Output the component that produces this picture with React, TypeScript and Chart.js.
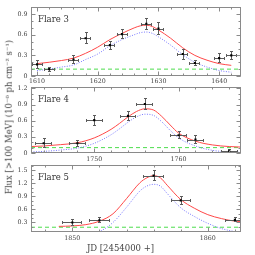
import React, { useEffect, useRef } from 'react';
import { Chart, registerables } from 'chart.js';
Chart.register(...registerables);

// ---------- Flare 3 ----------
const F3_X = [1610, 1612, 1616, 1618, 1622, 1624, 1628, 1630, 1634, 1636, 1640, 1642];
const F3_Y = [0.17, 0.10, 0.24, 0.55, 0.45, 0.61, 0.76, 0.69, 0.32, 0.19, 0.26, 0.30];
const F3_YERR = [0.07, 0.035, 0.07, 0.085, 0.065, 0.07, 0.085, 0.09, 0.08, 0.05, 0.07, 0.07];
const F3_XERR = [0.9, 0.9, 0.9, 0.9, 0.9, 0.9, 0.9, 0.9, 0.9, 0.9, 0.9, 0.9];
const F3_CURVE_X = [1610, 1612, 1614, 1616, 1618, 1620, 1622, 1624, 1626, 1627, 1628, 1629, 1630, 1632, 1634, 1636, 1638, 1640, 1642];
const F3_TOTAL = [0.18, 0.20, 0.225, 0.26, 0.33, 0.42, 0.53, 0.62, 0.70, 0.73, 0.74, 0.72, 0.67, 0.55, 0.41, 0.30, 0.23, 0.18, 0.155];
const F3_FLARE = [0.08, 0.10, 0.13, 0.16, 0.24, 0.32, 0.44, 0.53, 0.60, 0.63, 0.64, 0.62, 0.57, 0.45, 0.31, 0.20, 0.13, 0.08, 0.055];
const F3_BASE = 0.1;
const F3_XTICKS = [1610, 1620, 1630, 1640];
const F3_YTICKS = [0, 0.3, 0.6, 0.9];

// ---------- Flare 4 ----------
const F4_X = [1744, 1748, 1750, 1754, 1756, 1760, 1762, 1766];
const F4_Y = [0.18, 0.18, 0.61, 0.69, 0.91, 0.33, 0.25, 0.04];
const F4_YERR = [0.09, 0.06, 0.1, 0.09, 0.11, 0.07, 0.08, 0.03];
const F4_XERR = [1, 1, 1, 1, 1, 1, 1, 1];
const F4_CURVE_X = [1742.5, 1744, 1746, 1748, 1750, 1752, 1753, 1754, 1755, 1756, 1757, 1758, 1759, 1760, 1762, 1764, 1766, 1767.4];
const F4_TOTAL = [0.12, 0.13, 0.155, 0.19, 0.28, 0.44, 0.55, 0.67, 0.77, 0.82, 0.80, 0.68, 0.52, 0.37, 0.22, 0.15, 0.12, 0.11];
const F4_FLARE = [0.02, 0.03, 0.055, 0.09, 0.18, 0.34, 0.45, 0.57, 0.67, 0.72, 0.70, 0.58, 0.42, 0.28, 0.13, 0.05, 0.02, 0.01];
const F4_BASE = 0.1;
const F4_XTICKS = [1750, 1760];
const F4_YTICKS = [0, 0.3, 0.6, 0.9, 1.2];

// ---------- Flare 5 ----------
const F5_X = [1850, 1852, 1856, 1858, 1862];
const F5_Y = [0.30, 0.35, 1.38, 0.81, 0.36];
const F5_YERR = [0.07, 0.07, 0.13, 0.1, 0.06];
const F5_XERR = [0.75, 0.75, 0.75, 0.75, 0.75];
const F5_CURVE_X = [1849, 1850, 1851, 1852, 1853, 1854, 1855, 1855.5, 1856, 1856.5, 1857, 1858, 1859, 1860, 1861, 1862, 1862.4];
const F5_TOTAL = [0.21, 0.22, 0.25, 0.33, 0.50, 0.85, 1.22, 1.33, 1.38, 1.33, 1.16, 0.83, 0.63, 0.48, 0.39, 0.33, 0.32];
const F5_FLARE = [0.01, 0.02, 0.03, 0.09, 0.30, 0.65, 1.03, 1.14, 1.18, 1.14, 0.97, 0.64, 0.44, 0.28, 0.16, 0.09, 0.07];
const F5_BASE = 0.19;
const F5_XTICKS = [1850, 1860];
const F5_YTICKS = [0.3, 0.6, 0.9, 1.2, 1.5];

const LABELS = ['Flare 3', 'Flare 4', 'Flare 5'];
const X_TITLE = 'JD [2454000 +]';

const FONT = '"DejaVu Serif"';

const errorBarPlugin = {
  id: 'errbars',
  beforeDatasetDraw(chart: any, args: any) {
    const ds = chart.data.datasets[args.index];
    if (!ds.yErr) return;
    const { ctx, chartArea: a } = chart;
    const x = chart.scales.x, y = chart.scales.y;
    const s = (v: number) => Math.round(v) + 0.5;
    ctx.save();
    ctx.beginPath();
    ctx.rect(a.left, a.top, a.right - a.left, a.bottom - a.top);
    ctx.clip();
    ctx.strokeStyle = '#5c5c5c';
    ctx.lineWidth = 1;
    ctx.beginPath();
    ds.data.forEach((pt: any, i: number) => {
      const px = s(x.getPixelForValue(pt.x));
      const py = s(y.getPixelForValue(pt.y));
      const x0 = Math.round(x.getPixelForValue(pt.x - ds.xErr[i]));
      const x1 = Math.round(x.getPixelForValue(pt.x + ds.xErr[i]));
      const y0 = Math.round(y.getPixelForValue(pt.y - ds.yErr[i]));
      const y1 = Math.round(y.getPixelForValue(pt.y + ds.yErr[i]));
      ctx.moveTo(x0, py); ctx.lineTo(x1, py);
      ctx.moveTo(px, y0); ctx.lineTo(px, y1);
      ctx.moveTo(x0 + 0.5, py - 1.5); ctx.lineTo(x0 + 0.5, py + 1.5);
      ctx.moveTo(x1 - 0.5, py - 1.5); ctx.lineTo(x1 - 0.5, py + 1.5);
      ctx.moveTo(px - 1.5, y0 - 0.5); ctx.lineTo(px + 1.5, y0 - 0.5);
      ctx.moveTo(px - 1.5, y1 + 0.5); ctx.lineTo(px + 1.5, y1 + 0.5);
    });
    ctx.stroke();
    ctx.restore();
  },
};

const framePlugin = {
  id: 'frame',
  afterDraw(chart: any, _args: any, o: any) {
    const { ctx, chartArea: a } = chart;
    const x = chart.scales.x, y = chart.scales.y;
    const L = Math.round(a.left) + 0.5, R = Math.round(a.right) - 0.5;
    const T = Math.round(a.top) + 0.5, B = Math.round(a.bottom) - 0.5;
    ctx.save();
    ctx.strokeStyle = '#8a8a8a';
    ctx.lineWidth = 1;
    ctx.strokeRect(L, T, R - L, B - T);
    ctx.beginPath();
    const tickX = (v: number, len: number) => {
      const p = Math.round(x.getPixelForValue(v)) + 0.5;
      ctx.moveTo(p, B); ctx.lineTo(p, B - len);
      ctx.moveTo(p, T); ctx.lineTo(p, T + len);
    };
    const tickY = (v: number, len: number) => {
      const p = Math.round(y.getPixelForValue(v)) + 0.5;
      ctx.moveTo(L, p); ctx.lineTo(L + len, p);
      ctx.moveTo(R, p); ctx.lineTo(R - len, p);
    };
    x.ticks.forEach((t: any) => tickX(t.value, 4));
    y.ticks.forEach((t: any) => tickY(t.value, 4));
    for (let k = Math.ceil(x.min / o.minorX - 1e-9); k * o.minorX <= x.max + 1e-9; k++) tickX(k * o.minorX, 2);
    for (let k = Math.ceil(y.min / o.minorY - 1e-9); k * o.minorY <= y.max + 1e-9; k++) tickY(k * o.minorY, 2);
    ctx.stroke();
    ctx.fillStyle = '#333';
    ctx.font = `8.5px ${FONT}`;
    ctx.textBaseline = 'middle';
    ctx.textAlign = 'left';
    ctx.fillText(o.label, a.left + 7, a.top + 13);
    ctx.restore();
  },
};

type PanelDef = {
  xs: number[]; ys: number[]; yErr: number[]; xErr: number[];
  cx: number[]; total: number[]; flare: number[]; base: number;
  xTicks: number[]; yTicks: number[];
  xMin: number; xMax: number; yMin: number; yMax: number;
  label: string;
  top: number; height: number; padTop: number; axisH: number; labelPad: number;
};

const PANEL_DEFS: PanelDef[] = [
  { xs: F3_X, ys: F3_Y, yErr: F3_YERR, xErr: F3_XERR, cx: F3_CURVE_X, total: F3_TOTAL, flare: F3_FLARE, base: F3_BASE,
    xTicks: F3_XTICKS, yTicks: F3_YTICKS, xMin: 1609, xMax: 1643.6, yMin: 0, yMax: 1.0, label: LABELS[0],
    top: 0, height: 90, padTop: 5, axisH: 14, labelPad: 2 },
  { xs: F4_X, ys: F4_Y, yErr: F4_YERR, xErr: F4_XERR, cx: F4_CURVE_X, total: F4_TOTAL, flare: F4_FLARE, base: F4_BASE,
    xTicks: F4_XTICKS, yTicks: F4_YTICKS, xMin: 1742.5, xMax: 1767.4, yMin: 0, yMax: 1.22, label: LABELS[1],
    top: 80, height: 88, padTop: 6, axisH: 15, labelPad: 2.5 },
  { xs: F5_X, ys: F5_Y, yErr: F5_YERR, xErr: F5_XERR, cx: F5_CURVE_X, total: F5_TOTAL, flare: F5_FLARE, base: F5_BASE,
    xTicks: F5_XTICKS, yTicks: F5_YTICKS, xMin: 1846.95, xMax: 1862.45, yMin: 0.08, yMax: 1.62, label: LABELS[2],
    top: 158, height: 97, padTop: 7, axisH: 23, labelPad: 3 },
];

function Panel({ p }: { p: PanelDef }) {
  const ref = useRef<HTMLCanvasElement>(null);
  useEffect(() => {
    const chart = new Chart(ref.current as HTMLCanvasElement, {
      type: 'line',
      data: {
        datasets: [
          {
            data: p.xs.map((x, i) => ({ x, y: p.ys[i] })),
            showLine: false,
            pointStyle: 'rect',
            pointRadius: 1.5,
            pointBackgroundColor: '#000',
            pointBorderColor: '#000',
            pointBorderWidth: 0,
            yErr: p.yErr,
            xErr: p.xErr,
          } as any,
          {
            data: p.cx.map((x, i) => ({ x, y: p.total[i] })),
            borderColor: '#ff4848',
            borderWidth: 1,
            pointRadius: 0,
            cubicInterpolationMode: 'monotone',
          },
          {
            data: p.cx.map((x, i) => ({ x, y: p.flare[i] })),
            borderColor: '#7878ff',
            borderWidth: 1,
            borderDash: [1, 1.5],
            pointRadius: 0,
            cubicInterpolationMode: 'monotone',
          },
          {
            data: [{ x: p.xMin, y: p.base }, { x: p.xMax, y: p.base }],
            borderColor: '#4ddd4d',
            borderWidth: 1,
            borderDash: [4, 3],
            pointRadius: 0,
          },
        ],
      },
      options: {
        responsive: false,
        devicePixelRatio: 1,
        animation: false,
        events: [],
        layout: { padding: { left: 0, right: 14, top: p.padTop, bottom: 0 } },
        plugins: {
          legend: { display: false },
          tooltip: { enabled: false },
          frame: { label: p.label, minorX: 2, minorY: 0.1 },
        } as any,
        scales: {
          x: {
            type: 'linear',
            min: p.xMin,
            max: p.xMax,
            afterBuildTicks: (s: any) => { s.ticks = p.xTicks.map((v) => ({ value: v })); },
            afterFit: (s: any) => { s.height = p.axisH; },
            ticks: {
              font: { family: FONT, size: 6.3 },
              color: '#444',
              padding: p.labelPad,
              maxRotation: 0,
              autoSkip: false,
              callback: (v: any) => String(v),
            },
            grid: { display: false, drawTicks: false },
            border: { display: false },
          },
          y: {
            type: 'linear',
            min: p.yMin,
            max: p.yMax,
            afterBuildTicks: (s: any) => { s.ticks = p.yTicks.map((v) => ({ value: v })); },
            afterFit: (s: any) => { s.width = 31; },
            ticks: {
              font: { family: FONT, size: 6.3 },
              color: '#444',
              padding: 3.5,
              autoSkip: false,
              callback: (v: any) => (Number(v) === 0 ? '0' : Number(v).toFixed(1)),
            },
            grid: { display: false, drawTicks: false },
            border: { display: false },
          },
        },
      },
      plugins: [errorBarPlugin, framePlugin],
    } as any);
    return () => chart.destroy();
  }, []);
  return (
    <canvas
      ref={ref}
      width={255}
      height={p.height}
      style={{ position: 'absolute', left: 0, top: p.top, width: 255, height: p.height }}
    />
  );
}

export default function App() {
  return (
    <div style={{ position: 'absolute', left: 0, top: 0, width: 255, height: 255, overflow: 'hidden', background: '#fff' }}>
      {PANEL_DEFS.map((p, i) => (
        <Panel key={i} p={p} />
      ))}
      <div
        style={{
          position: 'absolute', left: 9, top: 116.5,
          transform: 'translate(-50%, -50%) rotate(-90deg)',
          whiteSpace: 'nowrap', font: `8.5px ${FONT}`, color: '#444', lineHeight: 1,
        }}
      >
        Flux [&gt;100 MeV] (10⁻⁶ ph cm⁻² s⁻¹)
      </div>
      <div
        style={{
          position: 'absolute', left: 120.5, top: 248,
          transform: 'translate(-50%, -50%)',
          whiteSpace: 'nowrap', font: `8.5px ${FONT}`, color: '#444', lineHeight: 1,
        }}
      >
        {X_TITLE}
      </div>
    </div>
  );
}
